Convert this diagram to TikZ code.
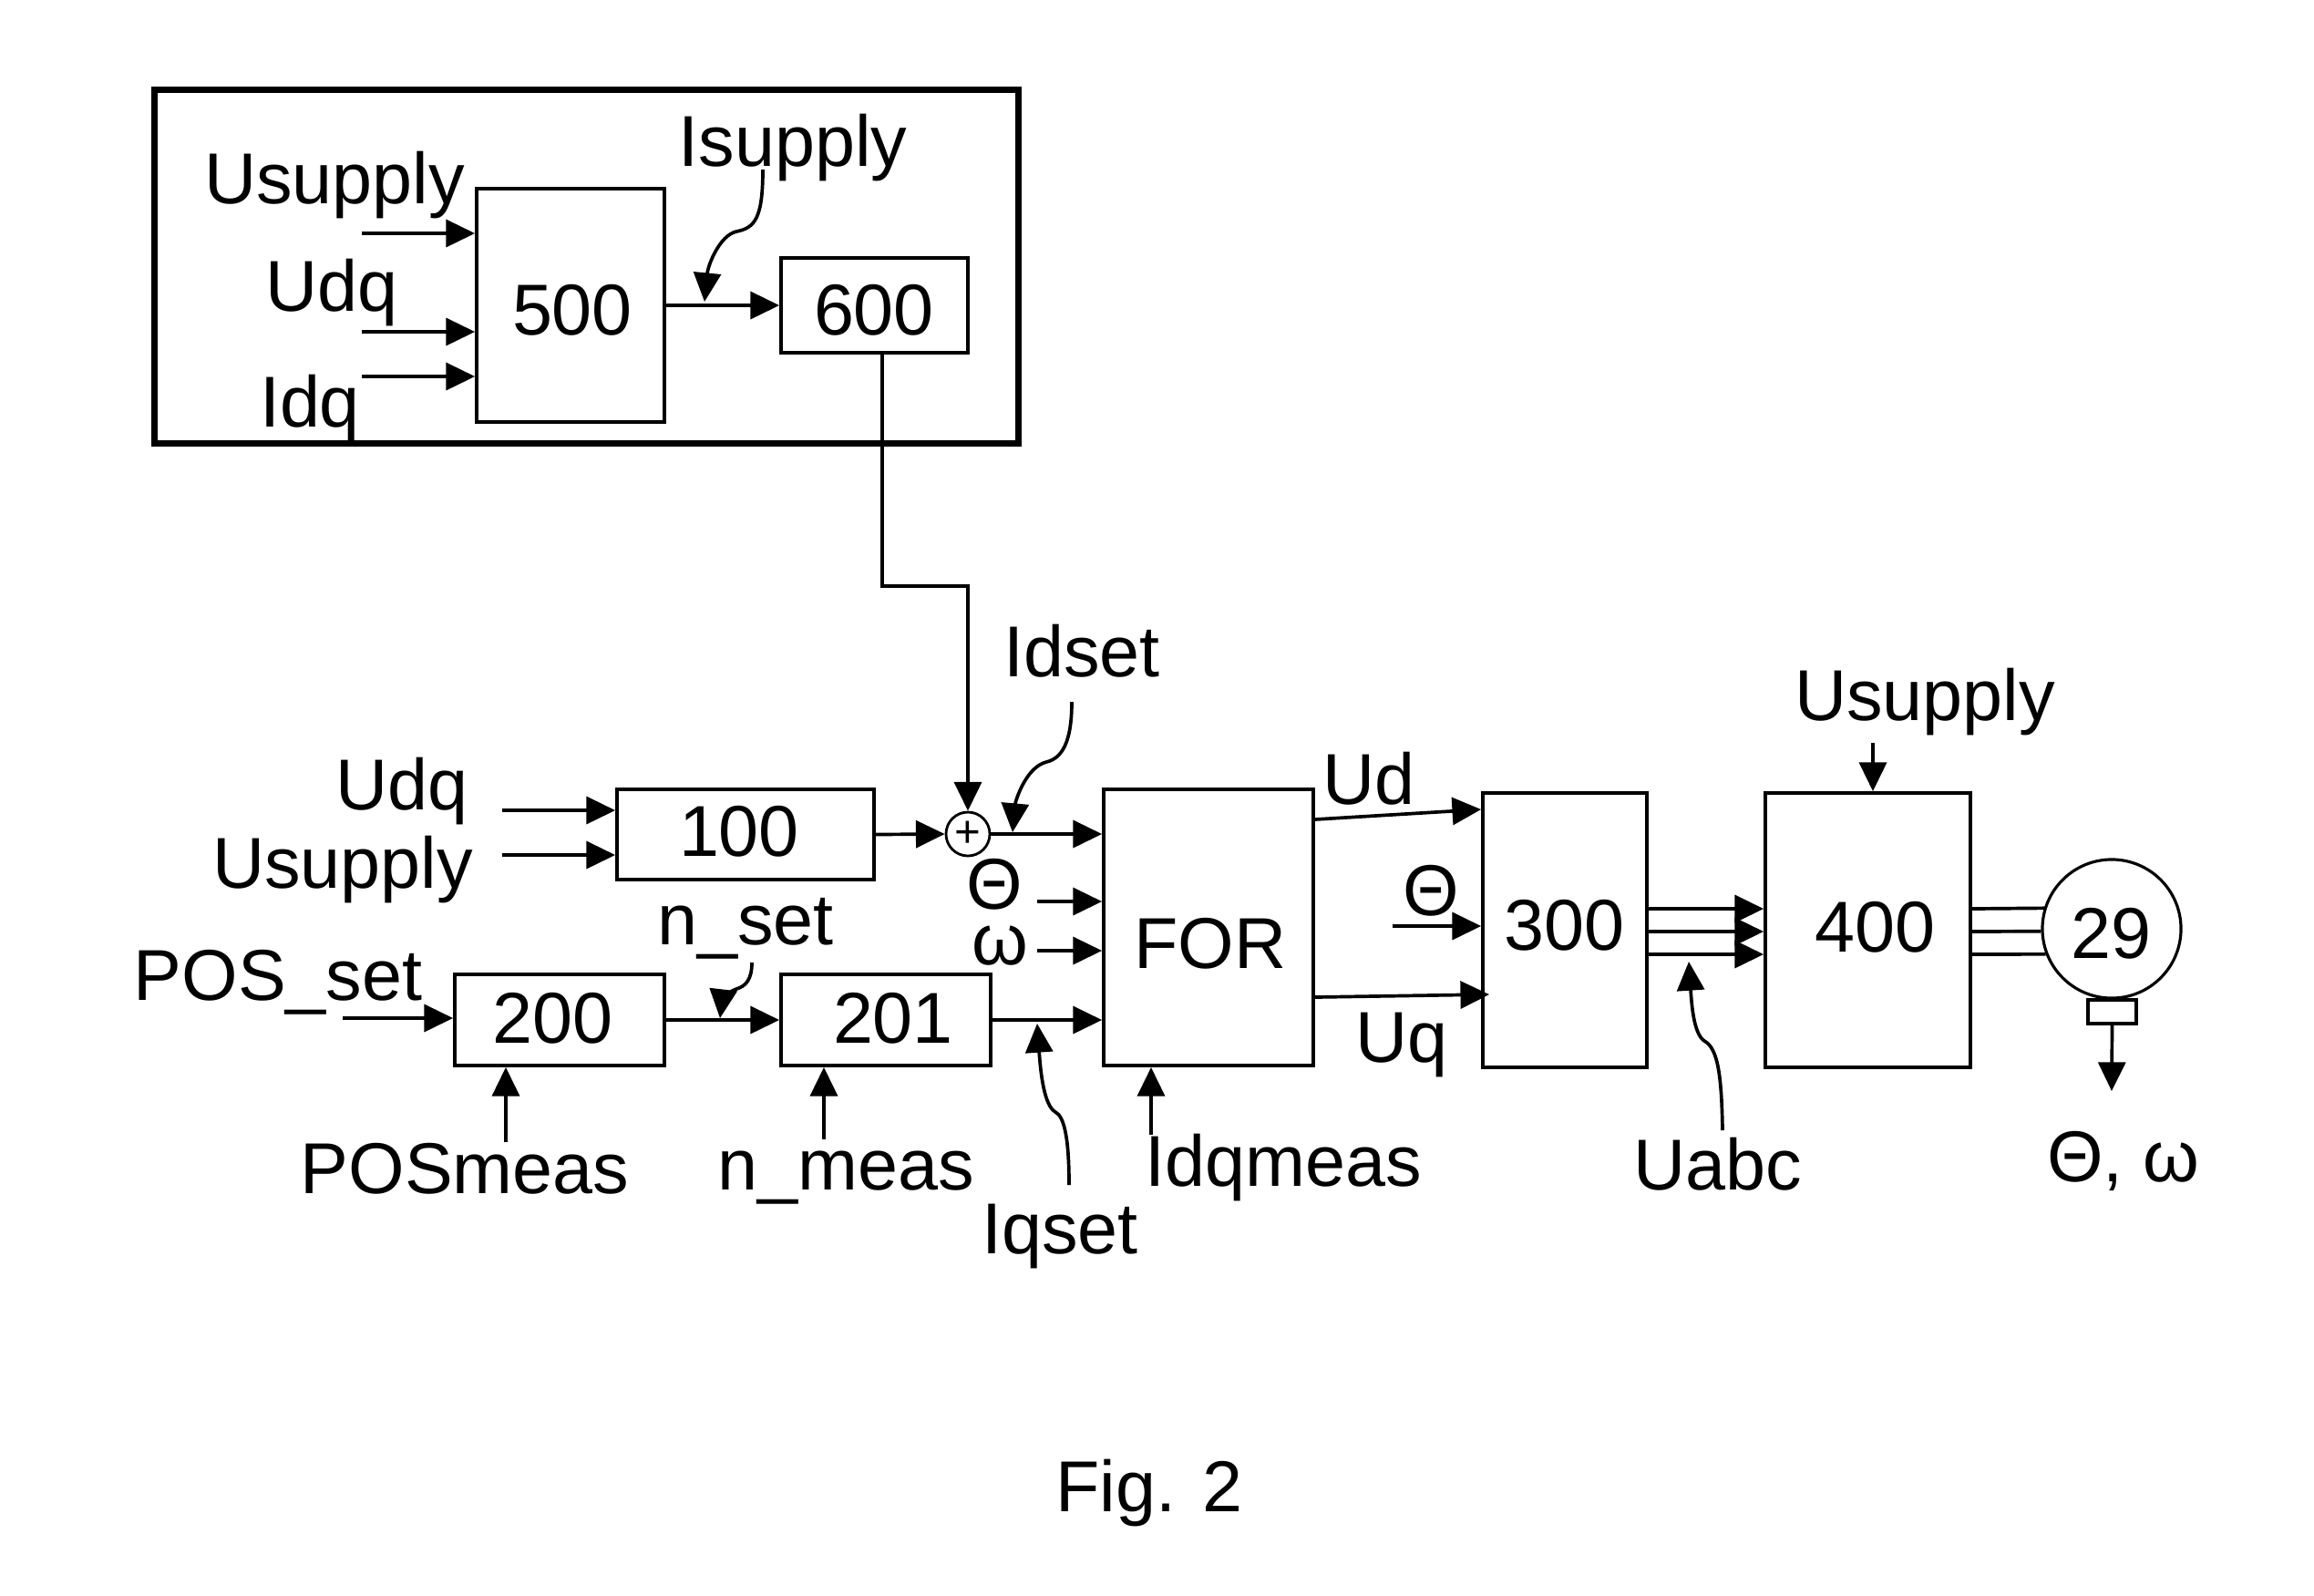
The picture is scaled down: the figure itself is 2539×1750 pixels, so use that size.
\documentclass[tikz,border=0pt]{standalone}
\usepackage{fontspec}
\setmainfont{Liberation Sans}
\usetikzlibrary{arrows.meta}
\newcommand\dgfont{\fontsize{22.5}{27}\selectfont}
\begin{document}
\begin{tikzpicture}[x=0.01cm,y=-0.01cm,
  blk/.style={draw, rectangle, line width=1.05pt, inner sep=0pt},
  txt/.style={inner sep=0pt, font=\dgfont},
  lab/.style={inner sep=0pt, anchor=base, font=\dgfont},
  arr/.style={line width=1.05pt, -{Triangle[length=9pt,width=8.5pt]}},
  wire/.style={line width=1.05pt}]
\useasboundingbox (0,0) rectangle (2539,1750);
% ---- frame and upper blocks
\node[draw, rectangle, line width=2pt, inner sep=0pt, minimum width=9.47cm, minimum height=3.87cm] (frame) at (643.5,292.5) {};
\node[blk, minimum width=2.06cm, minimum height=2.56cm] (b500) at (626,335) {};
\node[blk, minimum width=2.05cm, minimum height=1.04cm] (b600) at (959.5,335) {};
% ---- main blocks
\node[blk, minimum width=2.82cm, minimum height=0.99cm] (b100) at (818,915.5) {};
\node[draw, circle, line width=0.8pt, minimum size=0.48cm, inner sep=0pt] (sum) at (1062,915) {\fontsize{14}{14}\selectfont +};
\node[blk, minimum width=2.30cm, minimum height=3.03cm] (for) at (1326,1017.5) {};
\node[blk, minimum width=2.30cm, minimum height=1.00cm] (b200) at (614,1119) {};
\node[blk, minimum width=2.30cm, minimum height=1.00cm] (b201) at (972,1119) {};
\node[blk, minimum width=1.80cm, minimum height=3.01cm] (b300) at (1717,1020.5) {};
\node[blk, minimum width=2.25cm, minimum height=3.01cm] (b400) at (2049.5,1020.5) {};
\node[draw, circle, line width=0.9pt, minimum size=1.52cm, inner sep=0pt] (motor) at (2317,1019) {};
\node[blk, line width=0.9pt, minimum width=0.53cm, minimum height=0.26cm] (enc) at (2317.5,1110) {};
% ---- block texts
\node[txt] (t500) at (628,340) {500};
\node[txt] (t600) at (959,340) {600};
\node[txt] (t100) at (811,912) {100};
\node[txt] (tfor) at (1328,1035) {FOR};
\node[txt] (t200) at (607,1117) {200};
\node[txt] (t201) at (980,1117) {201};
\node[txt] (t300) at (1716,1015) {300};
\node[txt] (t400) at (2057,1017) {400};
\node[txt] (t29) at (2316,1024) {29};
% ---- labels
\node[lab] (lUs1) at (367,223) {Usupply};
\node[lab] (lUdq1) at (364,341) {Udq};
\node[lab] (lIdq1) at (340,468) {Idq};
\node[lab] (lIs) at (870,182) {Isupply};
\node[lab] (lUdq2) at (441,888) {Udq};
\node[lab] (lUs2) at (376,974) {Usupply};
\node[lab] (lIdset) at (1187,742) {Idset};
\node[txt] (lth1) at (1091,970) {Θ};
\node[txt] (lom1) at (1097,1038) {ω};
\node[lab] (lPOS) at (305,1097) {POS\_set};
\node[lab] (lnset) at (818,1036) {n\_set};
\node[lab] (lPOSm) at (510,1309) {POSmeas};
\node[lab] (lnmeas) at (928,1305) {n\_meas};
\node[lab] (lIdqm) at (1408,1301) {Idqmeas};
\node[lab] (lIqset) at (1163,1375) {Iqset};
\node[lab] (lUd) at (1502,882) {Ud};
\node[txt] (lth2) at (1570,977) {Θ};
\node[lab] (lUq) at (1538,1165) {Uq};
\node[lab] (lUabc) at (1885,1305) {Uabc};
\node[lab] (lUs3) at (2112,790) {Usupply};
\node[lab] (lthw) at (2330,1296) {Θ, ω};
\node[lab] (fig) at (1261,1658) {Fig. 2};
% ---- upper connectors
\coordinate (a1) at (397,256);
\coordinate (a2) at (397,364);
\coordinate (a3) at (397,413);
\draw[arr] (a1) -- (a1 -| b500.west);
\draw[arr] (a2) -- (a2 -| b500.west);
\draw[arr] (a3) -- (a3 -| b500.west);
\draw[arr] (b500) -- (b600);
\coordinate (sIs) at (837,186);
\coordinate (eIs) at (773,331);
\draw[arr] (sIs) .. controls (837,240) and (828,250) .. (808,254) .. controls (790,258) and (777,290) .. (eIs);
\coordinate (jog) at (1062,643);
\draw[arr] ([xshift=0.085cm]b600.south) |- (jog) -- (sum.north);
% ---- main connectors
\coordinate (c1) at (551,889);
\coordinate (c2) at (551,938);
\draw[arr] (c1) -- (c1 -| b100.west);
\draw[arr] (c2) -- (c2 -| b100.west);
\draw[arr] (b100.east) -- (sum.west);
\draw[arr] (sum.east) -- (sum.east -| for.west);
\coordinate (sId) at (1176,770);
\coordinate (eId) at (1111,913);
\draw[arr] (sId) .. controls (1176,815) and (1165,832) .. (1148,836) .. controls (1125,842) and (1114,880) .. (eId);
\coordinate (cth) at (1138,989);
\coordinate (com) at (1138,1043);
\draw[arr] (cth) -- (cth -| for.west);
\draw[arr] (com) -- (com -| for.west);
\coordinate (cpos) at (376,1117);
\draw[arr] (cpos) -- (cpos -| b200.west);
\draw[arr] (b200) -- (b201);
\draw[arr] (b201) -- (b201 -| for.west);
\coordinate (sns) at (825,1056);
\coordinate (ens) at (790,1117);
\draw[arr] (sns) .. controls (825,1075) and (818,1082) .. (808,1085) .. controls (796,1089) and (792,1100) .. (ens);
\coordinate (sIq) at (1173,1300);
\coordinate (eIq) at (1138,1123);
\draw[arr] (sIq) .. controls (1173,1250) and (1168,1225) .. (1158,1220) .. controls (1146,1213) and (1142,1180) .. (eIq);
\coordinate (cpm) at (555,1253);
\coordinate (cnm) at (904,1250);
\coordinate (cim) at (1263,1245);
\draw[arr] (cpm) -- (cpm |- b200.south);
\draw[arr] (cnm) -- (cnm |- b201.south);
\draw[arr] (cim) -- (cim |- for.south);
\draw[arr] (for.east |- 0,899) -- (b300.west |- 0,888);
\coordinate (cth2) at (1528,1016);
\draw[arr] (cth2) -- (cth2 -| b300.west);
\draw[arr] (for.east |- 0,1094) -- ([xshift=0.09cm]b300.west |- 0,1091);
\draw[arr] (b300.east |- 0,997) -- (b400.west |- 0,997);
\draw[arr] (b300.east |- 0,1022) -- (b400.west |- 0,1022);
\draw[arr] (b300.east |- 0,1047) -- (b400.west |- 0,1047);
\coordinate (sUa) at (1890,1240);
\coordinate (eUa) at (1853,1055);
\draw[arr] (sUa) .. controls (1889,1180) and (1885,1150) .. (1870,1142) .. controls (1858,1134) and (1856,1100) .. (eUa);
\coordinate (cus) at (2055,815);
\draw[arr] (cus) -- (cus |- b400.north);
\draw[wire] (b400.east |- 0,997) -- (motor.163.2);
\draw[wire] (b400.east |- 0,1022) -- (motor.182.3);
\draw[wire] (b400.east |- 0,1047) -- (motor.201.6);
\coordinate (cthw) at (2317,1197);
\draw[arr] (enc.south) -- (cthw);
\end{tikzpicture}
\end{document}
